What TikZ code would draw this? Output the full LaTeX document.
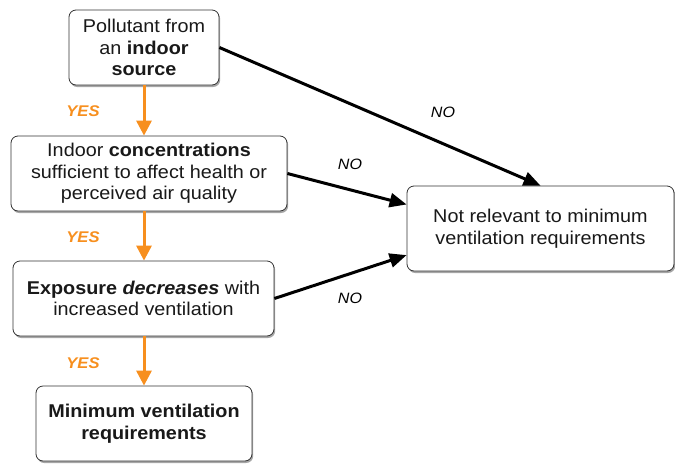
\documentclass[tikz,border=0pt]{standalone}
\usepackage{fontspec}
\setmainfont{Liberation Sans}[FakeStretch=1.07]
\usetikzlibrary{arrows.meta,shadows,calc}
\definecolor{yesor}{RGB}{247,143,30}
\definecolor{txt}{RGB}{25,25,25}
\begin{document}
\begin{tikzpicture}[x=1pt,y=-1pt,
  box/.style={draw=black!80,line width=0.8pt,rounded corners=7pt,fill=white,
    align=center,inner sep=0pt,text=txt,font=\fontsize{18.5}{21.5}\selectfont,
    drop shadow={shadow xshift=1.2pt,shadow yshift=-2pt,opacity=0.35,fill=black}},
  yesarrow/.style={draw=yesor,line width=3pt,-{Triangle[length=15pt,width=15pt]}},
  noarrow/.style={draw=black,line width=3pt,-{Triangle[length=17pt,width=14pt]}},
  yeslab/.style={text=yesor,font=\fontsize{15.5}{18}\selectfont\bfseries\itshape},
  nolab/.style={text=black,font=\fontsize{15}{18}\selectfont\itshape}]
\useasboundingbox (0,0) rectangle (675,464);
\node[box,minimum width=150pt,minimum height=75pt] (A) at (144,47.5)
  {Pollutant from\\an \textbf{indoor}\\\textbf{source}};
\node[box,minimum width=276pt,minimum height=75pt] (B) at (149,173.5)
  {Indoor \textbf{concentrations}\\sufficient to affect health or\\perceived air quality};
\node[box,minimum width=261pt,minimum height=75pt] (C) at (143.5,298.5)
  {\textbf{Exposure \textit{decreases}} with\\increased ventilation};
\node[box,minimum width=216pt,minimum height=75pt] (D) at (144,423.5)
  {\textbf{Minimum ventilation}\\\textbf{requirements}};
\node[box,minimum width=267pt,minimum height=85pt] (E) at (540.5,228.5)
  {Not relevant to minimum\\ventilation requirements};
\draw[yesarrow] (A.south) -- (A.south |- B.north);
\draw[yesarrow] (B.south -| A) -- (C.north -| A);
\draw[yesarrow] (C.south -| A) -- (D.north -| A);
\coordinate (e1) at ($(E.north west)!0.22!(E.south west)$);
\coordinate (e2) at ($(E.north west)!0.81!(E.south west)$);
\draw[noarrow] (A.east) -- (E.north);
\draw[noarrow] (B.east) -- (e1);
\draw[noarrow] (C.east) -- (e2);
\node[yeslab] (y1) at (83,111) {YES};
\node[yeslab] (y2) at (83,237) {YES};
\node[yeslab] (y3) at (83,363) {YES};
\node[nolab] (n1) at (443,112) {NO};
\node[nolab] (n2) at (350,164) {NO};
\node[nolab] (n3) at (350,298) {NO};
\end{tikzpicture}
\end{document}
